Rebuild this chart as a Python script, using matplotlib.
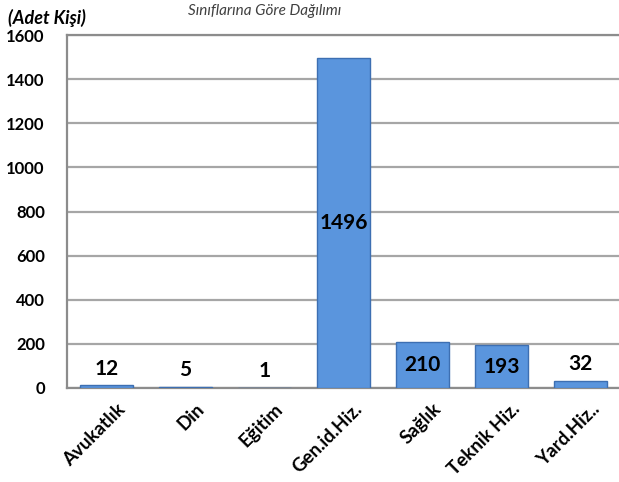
import matplotlib
matplotlib.use("Agg")
import matplotlib.pyplot as plt
from matplotlib.transforms import ScaledTranslation

categories = ["Avukatlık", "Din", "Eğitim", "Gen.id.Hiz.", "Sağlık", "Teknik Hiz.", "Yard.Hiz.."]
values = [12, 5, 1, 1496, 210, 193, 32]
yticks = [0, 200, 400, 600, 800, 1000, 1200, 1400, 1600]

plt.rcParams['font.family'] = ['Lato', 'DejaVu Sans']

fig = plt.figure(figsize=(6.19, 4.82), dpi=100)
ax = fig.add_axes([67/619, 1-388/482, 553/619, 353/482])

x = list(range(len(categories)))
ax.bar(x, values, width=0.66, color='#5a95dd', edgecolor='#3d6fb2', linewidth=1.0, zorder=3)

ax.set_xlim(-0.5, 6.5)
ax.set_ylim(0, 1600)
ax.set_yticks(yticks)
ax.set_yticklabels([str(t) for t in yticks], fontsize=12, fontweight='bold')
ax.tick_params(axis='y', length=0, pad=16)
ax.set_xticks(x)
ax.set_xticklabels(categories, rotation=45, ha='right', rotation_mode='anchor',
                   fontsize=13.5, fontweight='bold')
ax.tick_params(axis='x', length=0, pad=9)
offset = ScaledTranslation(10/100, 0, fig.dpi_scale_trans)
for lbl in ax.get_xticklabels():
    lbl.set_transform(lbl.get_transform() + offset)

ax.yaxis.grid(True, color='#a6a6a6', linewidth=1.6, zorder=0)
ax.set_axisbelow(True)
for s in ['left', 'bottom', 'top']:
    ax.spines[s].set_color('#8c8c8c')
    ax.spines[s].set_linewidth(1.6)
ax.spines['right'].set_visible(False)

for xi, v in zip(x, values):
    if v > 150:
        ax.text(xi, v / 2, str(v), ha='center', va='center', fontsize=15, fontweight='bold', zorder=4)
    else:
        ax.annotate(str(v), (xi, v), xytext=(0, 12), textcoords='offset points',
                    ha='center', va='center', fontsize=15, fontweight='bold', zorder=4)

fig.text(8/619, 1-18/482, "(Adet Kişi)", fontsize=13, fontweight='bold', style='italic',
         ha='left', va='center')
fig.text(265/619, 1-15/482, "Sınıflarına Göre Dağılımı", fontsize=11, style='italic',
         ha='center', va='baseline', color='#404040')

fig.savefig("out.png", dpi=100)
